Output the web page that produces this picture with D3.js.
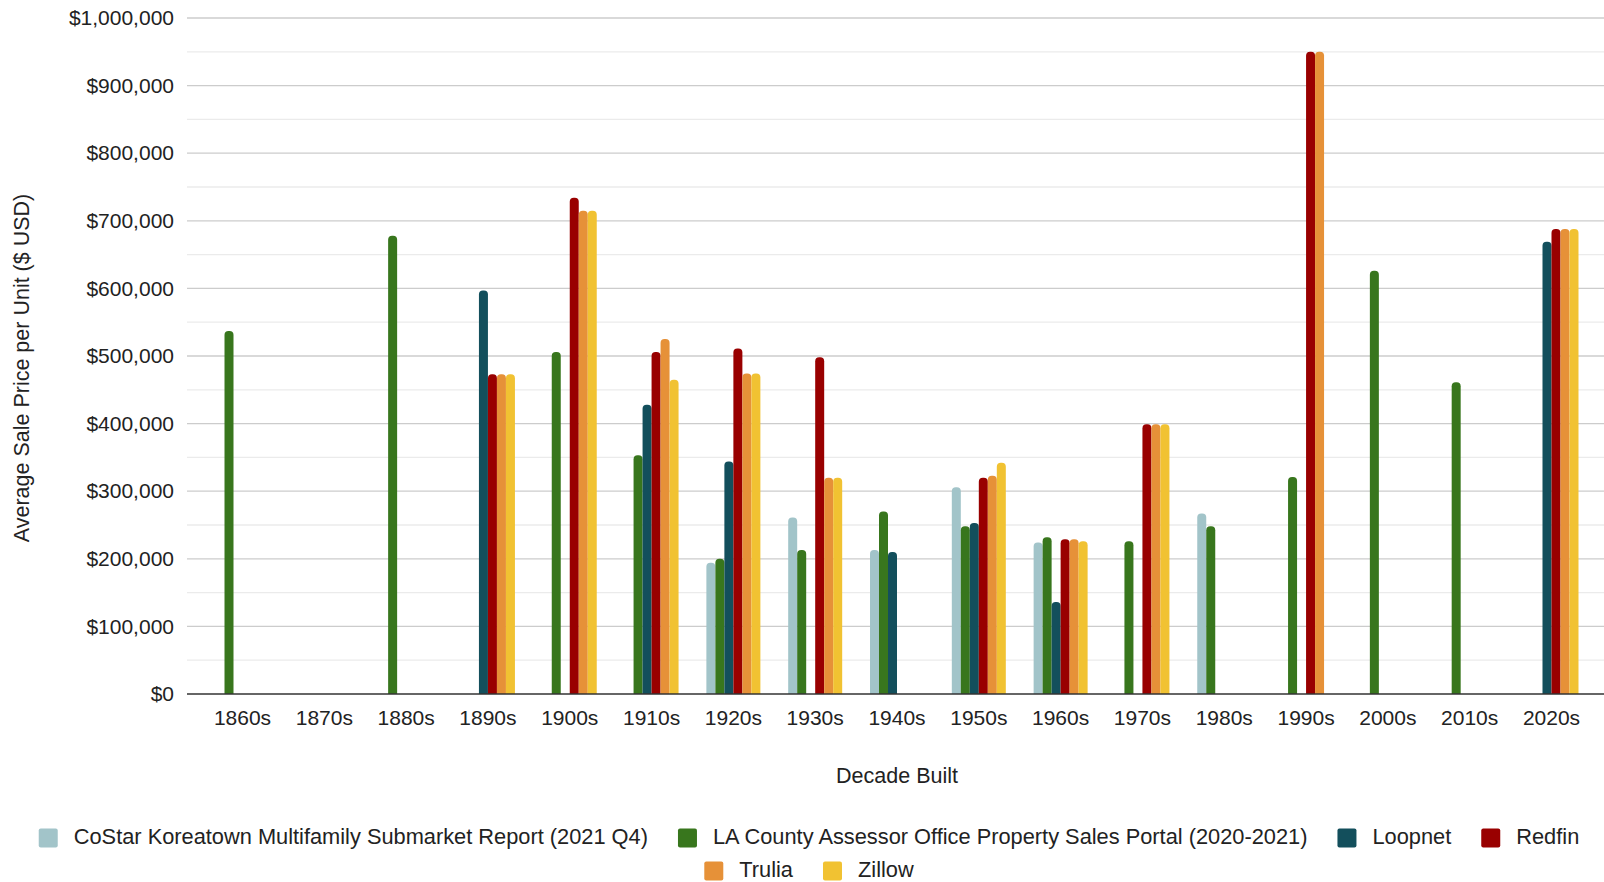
<!DOCTYPE html>
<html>
<head>
<meta charset="utf-8">
<script src="https://cdn.jsdelivr.net/npm/d3@7"></script>
<style>
  html, body { margin: 0; padding: 0; background: #ffffff; }
  svg { display: block; font-family: "Liberation Sans", Arial, sans-serif; }
</style>
</head>
<body>
<svg id="chart" width="1604" height="882"></svg>
<script>
// Decades on the x axis
const decades = ["1860s","1870s","1880s","1890s","1900s","1910s","1920s","1930s","1940s",
                 "1950s","1960s","1970s","1980s","1990s","2000s","2010s","2020s"];

// Average sale price per unit by source (null = no data for that decade)
const costar   = [null, null, null, null, null, null, 194000, 261000, 213000, 306000, 224000, null, 267000, null, null, null, null];
const laCounty = [537000, null, 678000, null, 506000, 353000, 200000, 213000, 270000, 248000, 232000, 226000, 248000, 321000, 626000, 461000, null];
const loopnet  = [null, null, null, 597000, null, 428000, 344000, null, 210000, 253000, 136000, null, null, null, null, null, 669000];
const redfin   = [null, null, null, 473000, 734000, 506000, 511000, 498000, null, 320000, 229000, 399000, null, 950000, null, null, 688000];
const trulia   = [null, null, null, 473000, 715000, 525000, 474000, 320000, null, 323000, 229000, 399000, null, 950000, null, null, 688000];
const zillow   = [null, null, null, 473000, 715000, 465000, 474000, 320000, null, 342000, 226000, 399000, null, null, null, null, 688000];

const seriesNames = [
  "CoStar Koreatown Multifamily Submarket Report (2021 Q4)",
  "LA County Assessor Office Property Sales Portal (2020-2021)",
  "Loopnet", "Redfin", "Trulia", "Zillow"
];
const seriesColors = ["#a2c4c9", "#38761d", "#134f5c", "#990000", "#e69138", "#f1c232"];
const seriesValues = [costar, laCounty, loopnet, redfin, trulia, zillow];

const yTicks = d3.range(0, 1000001, 100000);
const yMinor = d3.range(50000, 1000000, 100000);

const svg = d3.select("#chart");
const plot = { left: 187, right: 1604, top: 18, bottom: 694 };

const y = d3.scaleLinear().domain([0, 1000000]).range([plot.bottom, plot.top]);
const x0 = d3.scaleBand().domain(decades).range([201.6, 1592.4]).padding(0);
const groupW = 54;
const x1 = d3.scaleBand().domain(d3.range(seriesNames.length))
  .range([(x0.bandwidth() - groupW) / 2, (x0.bandwidth() + groupW) / 2]).padding(0);

// gridlines
svg.append("g").selectAll("line.minor").data(yMinor).join("line")
  .attr("x1", plot.left).attr("x2", plot.right)
  .attr("y1", d => y(d)).attr("y2", d => y(d))
  .attr("stroke", "#ebebeb").attr("stroke-width", 1.3);
svg.append("g").selectAll("line.major").data(yTicks.filter(d => d > 0)).join("line")
  .attr("x1", plot.left).attr("x2", plot.right)
  .attr("y1", d => y(d)).attr("y2", d => y(d))
  .attr("stroke", "#cccccc").attr("stroke-width", 1.3);

// y axis labels
const yAxis = d3.axisLeft(y).tickValues(yTicks).tickFormat(d3.format("$,")).tickSize(0).tickPadding(0);
const gy = svg.append("g").attr("transform", "translate(174,0)").call(yAxis);
gy.select(".domain").remove();
gy.selectAll("text").attr("font-size", 21).attr("fill", "#222").attr("font-family", "Liberation Sans, Arial, sans-serif");

// bars with rounded tops
function topRounded(xl, w, yt, yb, r) {
  r = Math.min(r, w / 2, (yb - yt));
  return `M${xl},${yb}V${yt + r}Q${xl},${yt} ${xl + r},${yt}H${xl + w - r}Q${xl + w},${yt} ${xl + w},${yt + r}V${yb}Z`;
}
const barData = [];
decades.forEach((dec, i) => {
  seriesValues.forEach((vals, s) => {
    if (vals[i] != null) barData.push({ dec, s, v: vals[i] });
  });
});
svg.append("g").selectAll("path").data(barData).join("path")
  .attr("fill", d => seriesColors[d.s])
  .attr("d", d => topRounded(x0(d.dec) + x1(d.s), x1.bandwidth(), y(d.v), y(0), 4));

// baseline
svg.append("line").attr("x1", plot.left).attr("x2", plot.right)
  .attr("y1", y(0)).attr("y2", y(0)).attr("stroke", "#333").attr("stroke-width", 1.6);

// x axis labels
const xAxis = d3.axisBottom(x0).tickSize(0).tickPadding(0);
const gx = svg.append("g").attr("transform", `translate(0,${y(0)})`).call(xAxis);
gx.select(".domain").remove();
gx.selectAll("text").attr("font-size", 21).attr("fill", "#222").attr("dy", null)
  .attr("y", 25).attr("dominant-baseline", "middle").attr("font-family", "Liberation Sans, Arial, sans-serif");

// axis titles
svg.append("text").attr("x", 897).attr("y", 777).attr("text-anchor", "middle")
  .attr("dominant-baseline", "middle").attr("font-size", 21.5).attr("fill", "#222")
  .text("Decade Built");
svg.append("text").attr("transform", "translate(23,368) rotate(-90)").attr("text-anchor", "middle")
  .attr("dominant-baseline", "middle").attr("font-size", 21.5).attr("fill", "#222")
  .text("Average Sale Price per Unit ($ USD)");

// legend
const rows = [[0, 1, 2, 3], [4, 5]];
const rowY = [838, 871];
const sw = 19, swGap = 16, itemGap = 30, legendCenter = 809;
const legend = svg.append("g");
rows.forEach((row, ri) => {
  const items = row.map(s => {
    const g = legend.append("g");
    g.append("rect").attr("width", sw).attr("height", sw).attr("rx", 2)
      .attr("y", rowY[ri] - sw / 2).attr("fill", seriesColors[s]);
    const t = g.append("text").attr("x", sw + swGap).attr("y", rowY[ri])
      .attr("dominant-baseline", "middle").attr("font-size", 21.8).attr("fill", "#222")
      .text(seriesNames[s]);
    return { g, w: sw + swGap + t.node().getComputedTextLength() };
  });
  const total = d3.sum(items, d => d.w) + itemGap * (items.length - 1);
  let cx = legendCenter - total / 2;
  items.forEach(it => { it.g.attr("transform", `translate(${cx},0)`); cx += it.w + itemGap; });
});
</script>
</body>
</html>
